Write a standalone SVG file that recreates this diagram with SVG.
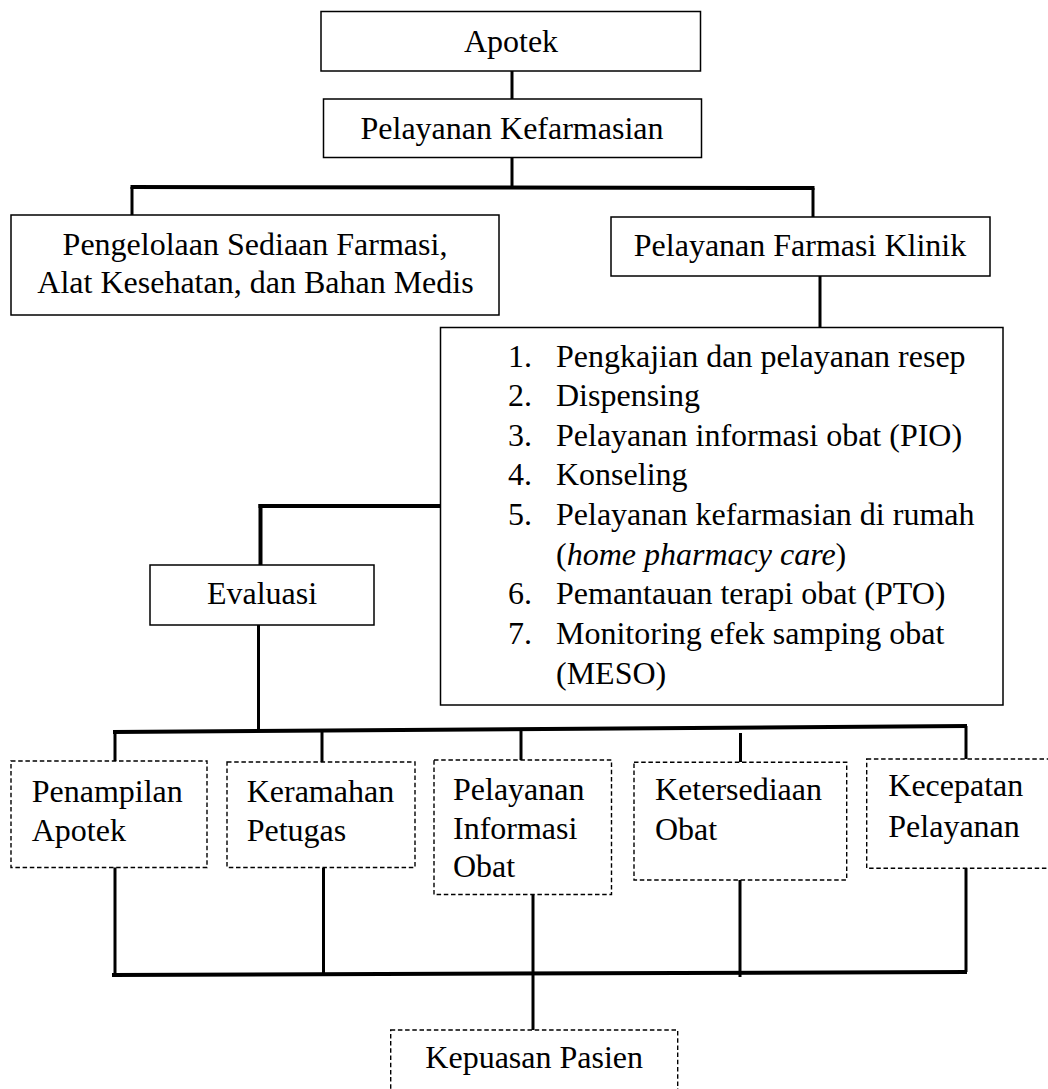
<svg xmlns="http://www.w3.org/2000/svg" width="1048" height="1089" viewBox="0 0 1048 1089">
<style>
text{font-family:"Liberation Serif","Times New Roman",serif;font-size:32px;fill:#000}
.c{text-anchor:middle}
.box{fill:#fff;stroke:#000;stroke-width:1.5}
.dbox{fill:#fff;stroke:#000;stroke-width:1.4;stroke-dasharray:4.5,2.7}
.ln{stroke:#000;stroke-width:3;fill:none}
.bar{stroke:#000;stroke-width:4;fill:none}
</style>
<rect width="1048" height="1089" fill="#fff"/>
<g id="connectors">
<line class="ln" x1="512" y1="71" x2="512" y2="99"/>
<line class="ln" x1="512" y1="157" x2="512" y2="187"/>
<line class="bar" x1="130.5" y1="187" x2="814.5" y2="188"/>
<line class="ln" x1="132" y1="187" x2="132" y2="215"/>
<line class="ln" x1="813" y1="188" x2="813" y2="217"/>
<line class="ln" x1="820" y1="276" x2="820" y2="327"/>
<line class="bar" x1="440" y1="506" x2="258.5" y2="506"/>
<line class="bar" x1="260.5" y1="504" x2="260.5" y2="565"/>
<line class="ln" x1="258.5" y1="625" x2="258.5" y2="732"/>
<line class="bar" x1="113" y1="732" x2="967" y2="726"/>
<line class="ln" x1="115" y1="732" x2="115" y2="761"/>
<line class="ln" x1="322" y1="731" x2="322" y2="762"/>
<line class="ln" x1="521" y1="730" x2="521" y2="760"/>
<line class="ln" x1="740.5" y1="733" x2="740.5" y2="762"/>
<line class="ln" x1="966" y1="726" x2="966" y2="759"/>
<line class="ln" x1="115" y1="867" x2="115" y2="975"/>
<line class="ln" x1="323.5" y1="868" x2="323.5" y2="975"/>
<line class="ln" x1="533" y1="894" x2="533" y2="1030"/>
<line class="ln" x1="740" y1="880" x2="740" y2="977"/>
<line class="ln" x1="966" y1="868" x2="966" y2="972"/>
<line class="bar" x1="112" y1="975" x2="967" y2="972"/>
</g>
<g id="apotek">
<rect class="box" x="321" y="11.5" width="379.5" height="59.5"/>
<text class="c" x="511" y="51.5">Apotek</text>
</g>
<g id="pelayanan-kefarmasian">
<rect class="box" x="323.5" y="99" width="378" height="58.5"/>
<text class="c" x="512" y="139.3">Pelayanan Kefarmasian</text>
</g>
<g id="pengelolaan">
<rect class="box" x="11" y="215" width="488" height="100"/>
<text class="c" x="255" y="255">Pengelolaan Sediaan Farmasi,</text>
<text class="c" x="255.5" y="292.7">Alat Kesehatan, dan Bahan Medis</text>
</g>
<g id="farmasi-klinik">
<rect class="box" x="611" y="217" width="379" height="59"/>
<text class="c" x="800" y="255.7">Pelayanan Farmasi Klinik</text>
</g>
<g id="list">
<rect class="box" x="440.5" y="327.5" width="562.5" height="377.5"/>
<text x="508" y="366.5">1.</text><text x="556" y="366.5">Pengkajian dan pelayanan resep</text>
<text x="508" y="406">2.</text><text x="556" y="406">Dispensing</text>
<text x="508" y="445.7">3.</text><text x="556" y="445.7">Pelayanan informasi obat (PIO)</text>
<text x="508" y="485.3">4.</text><text x="556" y="485.3">Konseling</text>
<text x="508" y="525">5.</text><text x="556" y="525">Pelayanan kefarmasian di rumah</text>
<text x="556" y="564.5">(<tspan font-style="italic">home pharmacy care</tspan>)</text>
<text x="508" y="604.3">6.</text><text x="556" y="604.3">Pemantauan terapi obat (PTO)</text>
<text x="508" y="644">7.</text><text x="556" y="644">Monitoring efek samping obat</text>
<text x="556" y="683.5">(MESO)</text>
</g>
<g id="evaluasi">
<rect class="box" x="150" y="565" width="224" height="60"/>
<text class="c" x="262" y="604">Evaluasi</text>
</g>
<g id="penampilan-apotek">
<rect class="dbox" x="11" y="761" width="196" height="106.5"/>
<text x="31.7" y="801.7">Penampilan</text>
<text x="31.7" y="840.7">Apotek</text>
</g>
<g id="keramahan-petugas">
<rect class="dbox" x="227" y="762" width="188" height="105.5"/>
<text x="246.7" y="801.7">Keramahan</text>
<text x="246.7" y="840.5">Petugas</text>
</g>
<g id="pelayanan-informasi-obat">
<rect class="dbox" x="434" y="760" width="177.5" height="134.5"/>
<text x="453" y="800">Pelayanan</text>
<text x="453" y="838.5">Informasi</text>
<text x="453" y="877">Obat</text>
</g>
<g id="ketersediaan-obat">
<rect class="dbox" x="634" y="762.3" width="212.7" height="117.7"/>
<text x="655" y="800">Ketersediaan</text>
<text x="655" y="840">Obat</text>
</g>
<g id="kecepatan-pelayanan">
<rect class="dbox" x="866.7" y="759" width="190" height="109.3"/>
<text x="888.3" y="795.5">Kecepatan</text>
<text x="888.3" y="837">Pelayanan</text>
</g>
<g id="kepuasan-pasien">
<rect class="dbox" x="390.7" y="1030" width="287" height="70"/>
<text class="c" x="534.2" y="1068.3">Kepuasan Pasien</text>
</g>
</svg>
